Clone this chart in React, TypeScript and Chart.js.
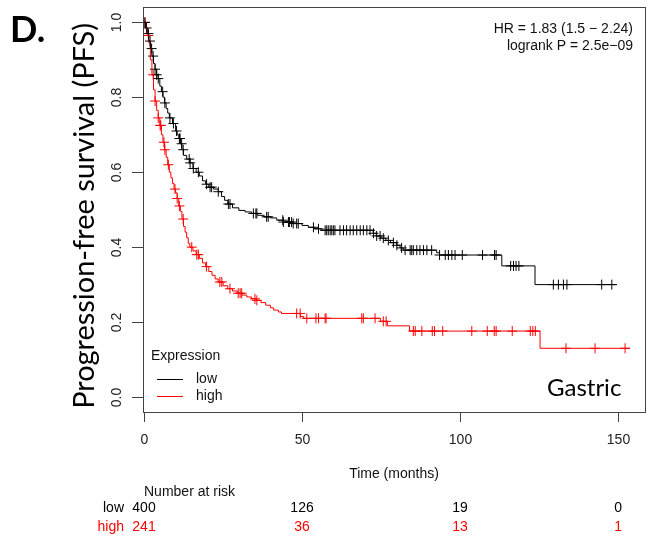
import React, { useEffect, useRef } from "react";
import { Chart, registerables } from "chart.js";

Chart.register(...registerables);

// ---- Data ----
const lowTimes = [0, 0.5, 1, 1.5, 2, 2.5, 3, 3.5, 4, 4.5, 5, 5.5, 6, 6.5, 7, 7.5, 8, 9, 10, 10.5, 11, 11.5, 12, 12.5, 13.5, 14.5, 15.5, 16.5, 17.5, 18.5, 19.5, 20.5, 22, 23.5, 24.5, 25.5, 26.5, 28, 30, 32, 34, 36, 38, 40, 42, 44, 47, 50, 52, 54, 56, 72.5, 73.5, 75, 76.5, 78, 80, 81, 82, 92.6, 93.5, 113.2, 123.7, 149.6];
const lowSurv = [1.0, 0.985, 0.97, 0.95, 0.93, 0.91, 0.89, 0.875, 0.86, 0.85, 0.83, 0.815, 0.8, 0.785, 0.77, 0.758, 0.745, 0.73, 0.71, 0.7, 0.69, 0.676, 0.66, 0.645, 0.635, 0.625, 0.61, 0.6, 0.59, 0.577, 0.568, 0.56, 0.555, 0.548, 0.535, 0.525, 0.515, 0.505, 0.498, 0.494, 0.49, 0.485, 0.481, 0.478, 0.472, 0.467, 0.463, 0.458, 0.453, 0.449, 0.445, 0.437, 0.43, 0.424, 0.418, 0.412, 0.405, 0.398, 0.392, 0.385, 0.379, 0.35, 0.3, 0.3];
const lowCensor = [0.3, 0.8, 1.4, 1.9, 2.4, 2.9, 3.5, 4.0, 4.5, 5.9, 6.6, 8.2, 9.3, 10.3, 11.2, 11.4, 11.9, 12.4, 14.3, 14.6, 15.6, 17.2, 19.8, 20.9, 21.4, 23.5, 26.7, 27.2, 34.6, 35.4, 35.7, 38.8, 39.3, 43.9, 44.1, 45.7, 46.0, 46.7, 47.2, 48.3, 48.8, 53.6, 55.2, 57.3, 57.8, 58.3, 58.9, 59.4, 59.9, 60.4, 62, 63.1, 64.1, 65.2, 66.2, 67.3, 68.4, 69.4, 70.5, 71.5, 72.6, 73.6, 74.7, 75.7, 77.3, 78.9, 80, 81.5, 82.6, 84.2, 84.7, 85.2, 86.3, 87.3, 88.4, 89.5, 91, 93.5, 95.3, 96.3, 97.4, 98.4, 100.7, 107.1, 110.9, 111.4, 116, 116.9, 117.7, 118.6, 129.5, 131.1, 132.7, 133.8, 144.8, 148];

const highTimes = [0, 0.5, 1, 1.5, 2, 2.5, 3, 3.5, 4, 4.5, 5, 5.5, 6, 6.5, 7, 7.5, 8, 8.5, 9, 9.5, 10, 10.5, 11, 11.5, 12, 12.5, 13, 13.5, 14, 14.5, 15.5, 16.5, 17.5, 18.5, 19.5, 20.5, 21.5, 22.5, 23.5, 25, 26.5, 28, 29.5, 31, 32.5, 34, 35.5, 37, 38.5, 40, 41, 42.5, 43.5, 49.5, 50.5, 74.8, 77, 84, 125.3, 153.8];
const highSurv = [1.0, 0.985, 0.965, 0.945, 0.9, 0.86, 0.82, 0.79, 0.765, 0.745, 0.725, 0.7, 0.68, 0.66, 0.64, 0.62, 0.6, 0.585, 0.57, 0.555, 0.545, 0.53, 0.51, 0.495, 0.475, 0.455, 0.44, 0.425, 0.41, 0.4, 0.39, 0.38, 0.37, 0.358, 0.348, 0.335, 0.325, 0.315, 0.307, 0.297, 0.289, 0.283, 0.277, 0.272, 0.267, 0.262, 0.258, 0.252, 0.245, 0.238, 0.232, 0.227, 0.223, 0.215, 0.21, 0.202, 0.19, 0.176, 0.13, 0.13];
const highCensor = [0.3, 1.4, 2.9, 3.5, 4.5, 5.1, 5.3, 6.3, 6.6, 7.7, 9.8, 10.5, 11.2, 12.4, 15.1, 16.7, 17.2, 19.8, 24, 24.6, 27.2, 29.8, 30.4, 30.9, 35.1, 35.7, 48.3, 49.4, 51.5, 54.4, 55.2, 57.3, 57.6, 68.9, 69.4, 73.1, 75.7, 76.6, 85.2, 85.8, 87.9, 91.2, 91.9, 94.5, 103.7, 108.6, 110.8, 111.4, 116.5, 122.2, 123, 123.8, 133.5, 142.7, 152.2];

const xTicks = [0, 50, 100, 150];
const yTicks = [0, 0.2, 0.4, 0.6, 0.8, 1.0];
const yTickLabels = ["0.0", "0.2", "0.4", "0.6", "0.8", "1.0"];

const riskTimes = [0, 50, 100, 150];
const riskLow = [400, 126, 19, 0];
const riskHigh = [241, 36, 13, 1];

const groupNames = ["low", "high"];
const groupColors = ["#000000", "#ff0000"];

const hrText = "HR = 1.83 (1.5 \u2212 2.24)";
const pText = "logrank P = 2.5e\u221209";
const yTitle = "Progression-free survival (PFS)";
const xTitle = "Time (months)";
const panelLabel = "D.";
const cancerLabel = "Gastric";
const legendTitle = "Expression";
const riskTitle = "Number at risk";

function survAt(times: number[], surv: number[], t: number): number {
  let v = surv[0];
  for (let i = 0; i < times.length; i++) {
    if (times[i] <= t) v = surv[i];
  }
  return v;
}

const ARIAL = '"Liberation Sans", Arial, sans-serif';
const CAL = 'Lato, "Open Sans", sans-serif';

const overlay = {
  id: "kmOverlay",
  afterDraw(chart: any) {
    const ctx = chart.ctx as CanvasRenderingContext2D;
    const xs = chart.scales.x;
    const ys = chart.scales.y;
    const a = chart.chartArea;
    ctx.save();
    // box
    ctx.strokeStyle = "#444";
    ctx.lineWidth = 1;
    ctx.strokeRect(Math.round(a.left) + 0.5, Math.round(a.top) + 0.5, Math.round(a.right - a.left), Math.round(a.bottom - a.top));

    // x ticks
    ctx.fillStyle = "#222";
    ctx.font = `14px ${ARIAL}`;
    ctx.textAlign = "center";
    ctx.textBaseline = "middle";
    xTicks.forEach((t) => {
      const px = Math.round(xs.getPixelForValue(t)) + 0.5;
      ctx.beginPath();
      ctx.moveTo(px, a.bottom);
      ctx.lineTo(px, a.bottom + 10);
      ctx.stroke();
      ctx.fillText(String(t), px, a.bottom + 28);
    });
    // y ticks
    yTicks.forEach((v, i) => {
      const py = Math.round(ys.getPixelForValue(v)) + 0.5;
      ctx.beginPath();
      ctx.moveTo(a.left, py);
      ctx.lineTo(a.left - 11, py);
      ctx.stroke();
      ctx.save();
      ctx.translate(a.left - 26, py);
      ctx.rotate(-Math.PI / 2);
      ctx.fillText(yTickLabels[i], 0, 0);
      ctx.restore();
    });

    // x title
    ctx.fillStyle = "#111";
    ctx.fillText(xTitle, (a.left + a.right) / 2, 474);

    // HR / p text
    ctx.textAlign = "right";
    ctx.fillText(hrText, a.right - 12, 29);
    ctx.fillText(pText, a.right - 12, 46);

    // legend
    ctx.textAlign = "left";
    ctx.fillText(legendTitle, a.left + 8, 356);
    groupNames.forEach((g, i) => {
      const ly = 379 + i * 17;
      ctx.strokeStyle = groupColors[i];
      ctx.beginPath();
      ctx.moveTo(a.left + 14, ly + 0.5);
      ctx.lineTo(a.left + 40, ly + 0.5);
      ctx.stroke();
      ctx.fillStyle = "#111";
      ctx.fillText(g, a.left + 53, ly);
    });

    // risk table
    ctx.fillStyle = "#111";
    ctx.textAlign = "left";
    ctx.fillText(riskTitle, xs.getPixelForValue(riskTimes[0]), 492);
    const rows = [riskLow, riskHigh];
    rows.forEach((row, r) => {
      const ry = 508 + r * 19;
      ctx.fillStyle = groupColors[r];
      ctx.textAlign = "right";
      ctx.fillText(groupNames[r], xs.getPixelForValue(riskTimes[0]) - 20, ry);
      ctx.textAlign = "center";
      row.forEach((n, j) => {
        ctx.fillText(String(n), xs.getPixelForValue(riskTimes[j]), ry);
      });
    });

    // cancer label
    ctx.fillStyle = "#000";
    ctx.textAlign = "left";
    ctx.font = `24px ${CAL}`;
    ctx.fillText(cancerLabel, 547, 388);

    // panel label
    ctx.font = `bold 36px ${CAL}`;
    ctx.fillText(panelLabel, 10, 30);

    // y title (fit to reference length)
    ctx.font = `26px ${CAL}`;
    const w = ctx.measureText(yTitle).width;
    const size = 26 * 386 / w;
    ctx.font = `${size}px ${CAL}`;
    ctx.textAlign = "center";
    ctx.save();
    ctx.translate(85, 216);
    ctx.rotate(-Math.PI / 2);
    ctx.fillText(yTitle, 0, 0);
    ctx.restore();

    ctx.restore();
  },
};

export default function App() {
  const ref = useRef<HTMLCanvasElement | null>(null);
  useEffect(() => {
    if (!ref.current) return;
    const lowLine = lowTimes.map((t, i) => ({ x: t, y: lowSurv[i] }));
    const highLine = highTimes.map((t, i) => ({ x: t, y: highSurv[i] }));
    const lowMarks = lowCensor.map((t) => ({ x: t, y: survAt(lowTimes, lowSurv, t) }));
    const highMarks = highCensor.map((t) => ({ x: t, y: survAt(highTimes, highSurv, t) }));
    const chart = new Chart(ref.current, {
      type: "line",
      data: {
        datasets: [
          { label: "low", data: lowLine, stepped: true, borderColor: groupColors[0], borderWidth: 1, pointRadius: 0, fill: false },
          { label: "high", data: highLine, stepped: true, borderColor: groupColors[1], borderWidth: 1, pointRadius: 0, fill: false },
          { label: "low censored", data: lowMarks, showLine: false, pointStyle: "cross", pointRadius: 5, pointBorderColor: groupColors[0], pointBorderWidth: 1, borderColor: groupColors[0] },
          { label: "high censored", data: highMarks, showLine: false, pointStyle: "cross", pointRadius: 5, pointBorderColor: groupColors[1], pointBorderWidth: 1, borderColor: groupColors[1] },
        ],
      },
      options: {
        responsive: false,
        animation: false,
        events: [],
        layout: { padding: { left: 143, right: 7, top: 7, bottom: 126 } },
        plugins: { legend: { display: false }, tooltip: { enabled: false } },
        scales: {
          x: { type: "linear", min: -0.32, max: 158.5, display: false },
          y: { type: "linear", min: -0.04, max: 1.041, display: false },
        },
      },
      plugins: [overlay],
    });
    return () => chart.destroy();
  }, []);
  return (
    <div style={{ position: "fixed", left: 0, top: 0, width: 652, height: 538, background: "#fff" }}>
      <canvas ref={ref} width={652} height={538} style={{ width: 652, height: 538, display: "block" }} />
    </div>
  );
}
